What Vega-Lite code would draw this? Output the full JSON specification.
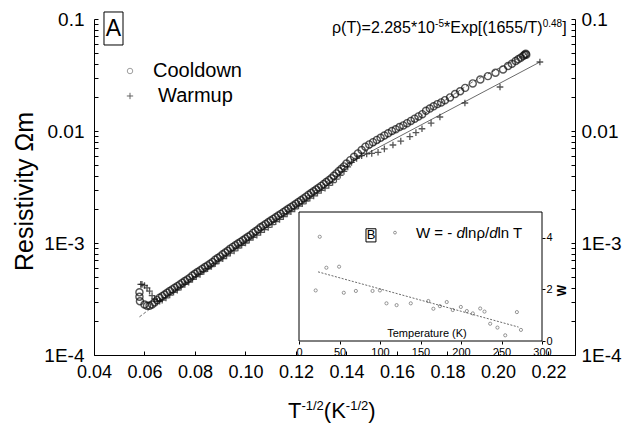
{
  "$schema": "https://vega.github.io/schema/vega-lite/v6.json",
  "width": 481,
  "height": 336,
  "autosize": "none",
  "padding": {"left": 94, "top": 19, "right": 53, "bottom": 70},
  "background": "white",
  "config": {
    "font": "Liberation Sans",
    "view": {"stroke": null},
    "axis": {"grid": false, "domainColor": "#000", "tickColor": "#000", "labelColor": "#000", "titleColor": "#000", "zindex": 1, "labelFont": "Liberation Sans", "titleFont": "Liberation Sans"}
  },
  "datasets": {
    "cool": [
      {"x":0.0580,"y":0.000363},{"x":0.0580,"y":0.000331},{"x":0.0582,"y":0.000302},
      {"x":0.0600,"y":0.000282},{"x":0.0610,"y":0.000275},{"x":0.0620,"y":0.000275},{"x":0.0630,"y":0.000282},{"x":0.0640,"y":0.000295},{"x":0.0650,"y":0.000309},{"x":0.0660,"y":0.000324},{"x":0.0670,"y":0.000335},{"x":0.0680,"y":0.000347},{"x":0.0690,"y":0.000359},{"x":0.0700,"y":0.000372},{"x":0.0710,"y":0.000385},{"x":0.0720,"y":0.000398},{"x":0.0730,"y":0.000412},{"x":0.0740,"y":0.000427},{"x":0.0750,"y":0.000442},{"x":0.0760,"y":0.000457},{"x":0.0770,"y":0.000473},{"x":0.0780,"y":0.000490},{"x":0.0790,"y":0.000513},{"x":0.0800,"y":0.000531},{"x":0.0810,"y":0.000550},{"x":0.0820,"y":0.000569},{"x":0.0830,"y":0.000589},{"x":0.0840,"y":0.000610},{"x":0.0850,"y":0.000631},{"x":0.0860,"y":0.000653},{"x":0.0870,"y":0.000676},{"x":0.0880,"y":0.000708},{"x":0.0890,"y":0.000733},{"x":0.0900,"y":0.000759},{"x":0.0910,"y":0.000794},{"x":0.0920,"y":0.000822},{"x":0.0930,"y":0.000851},{"x":0.0940,"y":0.000891},{"x":0.0950,"y":0.000923},{"x":0.0960,"y":0.000955},{"x":0.0970,"y":0.000989},{"x":0.0980,"y":0.001023},{"x":0.0990,"y":0.001059},{"x":0.1000,"y":0.001096},{"x":0.1010,"y":0.001135},{"x":0.1020,"y":0.001175},{"x":0.1030,"y":0.001230},{"x":0.1040,"y":0.001274},{"x":0.1050,"y":0.001318},{"x":0.1060,"y":0.001380},{"x":0.1070,"y":0.001429},{"x":0.1080,"y":0.001479},{"x":0.1090,"y":0.001531},{"x":0.1100,"y":0.001585},{"x":0.1110,"y":0.001641},{"x":0.1120,"y":0.001698},{"x":0.1130,"y":0.001758},{"x":0.1140,"y":0.001820},{"x":0.1150,"y":0.001884},{"x":0.1160,"y":0.001950},{"x":0.1170,"y":0.002018},{"x":0.1180,"y":0.002089},{"x":0.1190,"y":0.002163},{"x":0.1200,"y":0.002239},{"x":0.1210,"y":0.002323},{"x":0.1220,"y":0.002410},{"x":0.1230,"y":0.002500},{"x":0.1240,"y":0.002594},{"x":0.1250,"y":0.002692},{"x":0.1260,"y":0.002793},{"x":0.1270,"y":0.002897},{"x":0.1280,"y":0.003006},{"x":0.1290,"y":0.003119},{"x":0.1300,"y":0.003236},{"x":0.1310,"y":0.003365},{"x":0.1320,"y":0.003499},{"x":0.1330,"y":0.003639},{"x":0.1340,"y":0.003784},{"x":0.1350,"y":0.003981},{"x":0.1360,"y":0.004178},{"x":0.1370,"y":0.004385},{"x":0.1380,"y":0.004603},{"x":0.1390,"y":0.004831},{"x":0.1400,"y":0.005129},{"x":0.1415,"y":0.005495},{"x":0.1430,"y":0.005888},{"x":0.1445,"y":0.006310},{"x":0.1460,"y":0.006761},{"x":0.1475,"y":0.007244},{"x":0.1490,"y":0.007586},{"x":0.1505,"y":0.007943},{"x":0.1520,"y":0.008318},{"x":0.1535,"y":0.008710},{"x":0.1550,"y":0.009120},{"x":0.1565,"y":0.009550},{"x":0.1580,"y":0.01000},{"x":0.1595,"y":0.01035},{"x":0.1610,"y":0.01084},{"x":0.1625,"y":0.01122},{"x":0.1640,"y":0.01175},{"x":0.1655,"y":0.01230},{"x":0.1670,"y":0.01288},{"x":0.1685,"y":0.01349},{"x":0.1700,"y":0.01413},{"x":0.1715,"y":0.01514},{"x":0.1730,"y":0.01585},{"x":0.1745,"y":0.01660},{"x":0.1760,"y":0.01738},{"x":0.1775,"y":0.01799},{"x":0.1790,"y":0.01884},{"x":0.1810,"y":0.01995},{"x":0.1830,"y":0.02138},{"x":0.1850,"y":0.02265},{"x":0.1870,"y":0.02427},{"x":0.1900,"y":0.02661},{"x":0.1930,"y":0.02884},{"x":0.1960,"y":0.03090},{"x":0.1990,"y":0.03311},{"x":0.2020,"y":0.03548},{"x":0.2040,"y":0.03802},{"x":0.2055,"y":0.03981},{"x":0.2070,"y":0.04217},{"x":0.2080,"y":0.04365},{"x":0.2090,"y":0.04519},{"x":0.2100,"y":0.04677},{"x":0.2105,"y":0.04786},{"x":0.2110,"y":0.04898},{"x":0.2112,"y":0.04786}
    ],
    "warm": [
      {"x":0.0585,"y":0.000427},{"x":0.0590,"y":0.000427},{"x":0.0600,"y":0.000417},{"x":0.0610,"y":0.000398},{"x":0.0620,"y":0.000372},{"x":0.0630,"y":0.000339},{"x":0.0640,"y":0.000316},{"x":0.0650,"y":0.000302},{"x":0.0660,"y":0.000302},{"x":0.0670,"y":0.000309},{"x":0.0685,"y":0.000324},{"x":0.0700,"y":0.000343},{"x":0.0715,"y":0.000363},{"x":0.0730,"y":0.000380},{"x":0.0745,"y":0.000403},{"x":0.0760,"y":0.000427},{"x":0.0775,"y":0.000447},{"x":0.0790,"y":0.000473},{"x":0.0805,"y":0.000501},{"x":0.0820,"y":0.000525},{"x":0.0835,"y":0.000556},{"x":0.0850,"y":0.000589},{"x":0.0865,"y":0.000617},{"x":0.0880,"y":0.000653},{"x":0.0895,"y":0.000692},{"x":0.0910,"y":0.000724},{"x":0.0925,"y":0.000767},{"x":0.0940,"y":0.000813},{"x":0.0955,"y":0.000851},{"x":0.0970,"y":0.000902},{"x":0.0985,"y":0.000955},{"x":0.1000,"y":0.001000},{"x":0.1015,"y":0.001059},{"x":0.1030,"y":0.001122},{"x":0.1045,"y":0.001175},{"x":0.1060,"y":0.001245},{"x":0.1075,"y":0.001318},{"x":0.1090,"y":0.001380},{"x":0.1105,"y":0.001462},{"x":0.1120,"y":0.001549},{"x":0.1135,"y":0.001622},{"x":0.1150,"y":0.001718},{"x":0.1165,"y":0.001820},{"x":0.1180,"y":0.001905},{"x":0.1195,"y":0.002018},{"x":0.1210,"y":0.002138},{"x":0.1225,"y":0.002239},{"x":0.1240,"y":0.002371},{"x":0.1255,"y":0.002512},{"x":0.1270,"y":0.002630},{"x":0.1285,"y":0.002786},{"x":0.1300,"y":0.002951},{"x":0.1315,"y":0.003090},{"x":0.1330,"y":0.003273},{"x":0.1345,"y":0.003467},{"x":0.1360,"y":0.003715},{"x":0.1375,"y":0.004027},{"x":0.1390,"y":0.004365},{"x":0.1405,"y":0.004786},{"x":0.1420,"y":0.005248},{"x":0.1440,"y":0.005689},{"x":0.1460,"y":0.006026},{"x":0.1480,"y":0.006237},{"x":0.1500,"y":0.006310},{"x":0.1525,"y":0.006457},{"x":0.1550,"y":0.006918},{"x":0.1584,"y":0.007499},{"x":0.1615,"y":0.008128},{"x":0.1651,"y":0.008913},{"x":0.1675,"y":0.009661},{"x":0.1699,"y":0.01047},{"x":0.1735,"y":0.01175},{"x":0.1770,"y":0.01334},{"x":0.1869,"y":0.01778},{"x":0.2008,"y":0.02472},{"x":0.2166,"y":0.04130}
    ],
    "fit1": [
      {"x":0.058,"y":0.000219},{"x":0.070,"y":0.000351},{"x":0.090,"y":0.000739},{"x":0.110,"y":0.001547},{"x":0.130,"y":0.00322},{"x":0.150,"y":0.0072},{"x":0.170,"y":0.0138},{"x":0.190,"y":0.0275},{"x":0.200,"y":0.036},{"x":0.212,"y":0.0495}
    ],
    "fit2": [
      {"x":0.1374,"y":0.00468},{"x":0.2166,"y":0.0413}
    ],
    "inset": [
      {"T":25.6,"W":4.04},{"T":20.6,"W":1.96},{"T":33.8,"W":2.84},{"T":49.5,"W":2.88},{"T":55.3,"W":1.87},{"T":70.2,"W":1.94},{"T":90.8,"W":1.94},{"T":99.9,"W":1.96},{"T":108,"W":1.46},{"T":120.5,"W":1.39},{"T":138,"W":1.46},{"T":159.7,"W":1.55},{"T":165.9,"W":1.25},{"T":174,"W":1.35},{"T":182.4,"W":1.51},{"T":189.8,"W":1.2},{"T":199.8,"W":1.32},{"T":207.2,"W":1.16},{"T":214.6,"W":1.07},{"T":223.7,"W":1.26},{"T":229,"W":1.14},{"T":236,"W":0.67},{"T":245,"W":0.52},{"T":254.6,"W":0.22},{"T":269,"W":1.12},{"T":274,"W":0.43}
    ],
    "insetline": [{"T":23.5,"W":2.68},{"T":271,"W":0.54}]
  },
  "layer": [
    {
      "resolve": {"axis": {"y": "independent"}},
      "layer": [
        {
          "data": {"name": "fit1"},
          "mark": {"type": "line", "color": "#444", "strokeWidth": 0.8, "strokeDash": [3, 2]},
          "encoding": {
            "x": {"field": "x", "type": "quantitative", "scale": {"domain": [0.04, 0.2305], "nice": false, "zero": false},
              "axis": {"orient": "bottom", "title": null, "values": [0.04,0.05,0.06,0.07,0.08,0.09,0.10,0.11,0.12,0.13,0.14,0.15,0.16,0.17,0.18,0.19,0.20,0.21,0.22],
                "labelExpr": "round(datum.value*100) % 2 == 0 ? format(datum.value, '.2f') : ''",
                "tickSize": -4, "labelPadding": 12, "labelFontSize": 18, "domainWidth": 1, "labelFlush": false, "labelOverlap": false}},
            "y": {"field": "y", "type": "quantitative", "scale": {"type": "log", "domain": [0.0001, 0.1], "nice": false},
              "axis": {"orient": "left", "title": "Resistivity Ωm", "titleFontSize": 25, "titleFontWeight": "normal", "titleAngle": 270, "titleX": -70, "titleY": 172, "titleAlign": "center", "titleBaseline": "middle",
                "values": [0.0001,0.0002,0.0003,0.0004,0.0005,0.0006,0.0007,0.0008,0.0009,0.001,0.002,0.003,0.004,0.005,0.006,0.007,0.008,0.009,0.01,0.02,0.03,0.04,0.05,0.06,0.07,0.08,0.09,0.1],
                "labelExpr": "abs(log(datum.value)/LN10 - round(log(datum.value)/LN10)) < 0.001 ? (round(log(datum.value)/LN10) == -1 ? '0.1' : round(log(datum.value)/LN10) == -2 ? '0.01' : round(log(datum.value)/LN10) == -3 ? '1E-3' : '1E-4') : ''",
                "tickSize": -4, "labelPadding": 14, "labelFontSize": 19, "labelOverlap": false, "labelFlush": false}}
          }
        },
        {
          "data": {"name": "fit2"},
          "mark": {"type": "line", "color": "#444", "strokeWidth": 0.8},
          "encoding": {
            "x": {"field": "x", "type": "quantitative", "scale": {"domain": [0.04, 0.2305], "nice": false, "zero": false}},
            "y": {"field": "y", "type": "quantitative", "scale": {"type": "log", "domain": [0.0001, 0.1], "nice": false},
              "axis": {"orient": "right", "title": null,
                "values": [0.0001,0.0002,0.0003,0.0004,0.0005,0.0006,0.0007,0.0008,0.0009,0.001,0.002,0.003,0.004,0.005,0.006,0.007,0.008,0.009,0.01,0.02,0.03,0.04,0.05,0.06,0.07,0.08,0.09,0.1],
                "labelExpr": "abs(log(datum.value)/LN10 - round(log(datum.value)/LN10)) < 0.001 ? (round(log(datum.value)/LN10) == -1 ? '0.1' : round(log(datum.value)/LN10) == -2 ? '0.01' : round(log(datum.value)/LN10) == -3 ? '1E-3' : '1E-4') : ''",
                "tickSize": -4, "labelPadding": 10, "labelFontSize": 19, "labelOverlap": false, "labelFlush": false}}
          }
        },
        {
          "data": {"name": "cool"},
          "mark": {"type": "point", "shape": "circle", "filled": false, "size": 50, "strokeWidth": 1.4, "color": "#111"},
          "encoding": {
            "x": {"field": "x", "type": "quantitative", "scale": {"domain": [0.04, 0.2305], "nice": false, "zero": false}},
            "y": {"field": "y", "type": "quantitative", "scale": {"type": "log", "domain": [0.0001, 0.1], "nice": false}, "axis": null}
          }
        },
        {
          "data": {"name": "warm"},
          "mark": {"type": "point", "shape": "M-1,0H1M0,-1V1", "filled": false, "size": 44, "strokeWidth": 1.3, "color": "#111"},
          "encoding": {
            "x": {"field": "x", "type": "quantitative", "scale": {"domain": [0.04, 0.2305], "nice": false, "zero": false}},
            "y": {"field": "y", "type": "quantitative", "scale": {"type": "log", "domain": [0.0001, 0.1], "nice": false}, "axis": null}
          }
        },
        {
          "data": {"values": [{"x": 0.04396, "x2": 0.05149, "y": 0.1155, "y2": 0.0586}]},
          "mark": {"type": "rect", "fill": "white", "fillOpacity": 0, "stroke": "#000", "strokeWidth": 1},
          "encoding": {
            "x": {"field": "x", "type": "quantitative", "scale": {"domain": [0.04, 0.2305], "nice": false, "zero": false}},
            "x2": {"field": "x2"},
            "y": {"field": "y", "type": "quantitative", "scale": {"type": "log", "domain": [0.0001, 0.1], "nice": false}, "axis": null},
            "y2": {"field": "y2"}
          }
        },
        {
          "data": {"values": [{"x": 0.04772, "y": 0.0815, "label": "A"}]},
          "mark": {"type": "text", "fontSize": 23, "align": "center", "baseline": "middle", "color": "#000"},
          "encoding": {
            "x": {"field": "x", "type": "quantitative", "scale": {"domain": [0.04, 0.2305], "nice": false, "zero": false}},
            "y": {"field": "y", "type": "quantitative", "scale": {"type": "log", "domain": [0.0001, 0.1], "nice": false}, "axis": null},
            "text": {"field": "label"}
          }
        },
        {
          "data": {"values": [{"x": 0.05426, "y": 0.03433}]},
          "mark": {"type": "point", "shape": "circle", "filled": false, "size": 30, "strokeWidth": 0.8, "color": "#555"},
          "encoding": {
            "x": {"field": "x", "type": "quantitative", "scale": {"domain": [0.04, 0.2305], "nice": false, "zero": false}},
            "y": {"field": "y", "type": "quantitative", "scale": {"type": "log", "domain": [0.0001, 0.1], "nice": false}, "axis": null}
          }
        },
        {
          "data": {"values": [{"x": 0.05426, "y": 0.02054}]},
          "mark": {"type": "point", "shape": "M-1,0H1M0,-1V1", "filled": false, "size": 40, "strokeWidth": 0.9, "color": "#111"},
          "encoding": {
            "x": {"field": "x", "type": "quantitative", "scale": {"domain": [0.04, 0.2305], "nice": false, "zero": false}},
            "y": {"field": "y", "type": "quantitative", "scale": {"type": "log", "domain": [0.0001, 0.1], "nice": false}, "axis": null}
          }
        },
        {
          "data": {"values": [{"x": 0.06337, "y": 0.03433, "label": "Cooldown"}, {"x": 0.06535, "y": 0.02054, "label": "Warmup"}]},
          "mark": {"type": "text", "fontSize": 20, "align": "left", "baseline": "middle", "color": "#000"},
          "encoding": {
            "x": {"field": "x", "type": "quantitative", "scale": {"domain": [0.04, 0.2305], "nice": false, "zero": false}},
            "y": {"field": "y", "type": "quantitative", "scale": {"type": "log", "domain": [0.0001, 0.1], "nice": false}, "axis": null},
            "text": {"field": "label"}
          }
        },
        {
          "data": {"values": [{"x": 0.13426, "y": 0.0750, "label": "ρ(T)=2.285*10"}, {"x": 0.17861, "y": 0.0750, "label": "*Exp[(1655/T)"}, {"x": 0.22543, "y": 0.0750, "label": "]"}]},
          "mark": {"type": "text", "fontSize": 16, "align": "left", "baseline": "alphabetic", "color": "#000"},
          "encoding": {
            "x": {"field": "x", "type": "quantitative", "scale": {"domain": [0.04, 0.2305], "nice": false, "zero": false}},
            "y": {"field": "y", "type": "quantitative", "scale": {"type": "log", "domain": [0.0001, 0.1], "nice": false}, "axis": null},
            "text": {"field": "label"}
          }
        },
        {
          "data": {"values": [{"x": 0.17509, "y": 0.0848, "label": "-5"}, {"x": 0.21770, "y": 0.0848, "label": "0.48"}]},
          "mark": {"type": "text", "fontSize": 10, "align": "left", "baseline": "alphabetic", "color": "#000"},
          "encoding": {
            "x": {"field": "x", "type": "quantitative", "scale": {"domain": [0.04, 0.2305], "nice": false, "zero": false}},
            "y": {"field": "y", "type": "quantitative", "scale": {"type": "log", "domain": [0.0001, 0.1], "nice": false}, "axis": null},
            "text": {"field": "label"}
          }
        },
        {
          "data": {"values": [{"x": 0.11683, "y": 0.00002738, "label": "T"}, {"x": 0.13103, "y": 0.00002738, "label": "(K"}, {"x": 0.14861, "y": 0.00002738, "label": ")"}]},
          "mark": {"type": "text", "fontSize": 22, "align": "left", "baseline": "alphabetic", "color": "#000"},
          "encoding": {
            "x": {"field": "x", "type": "quantitative", "scale": {"domain": [0.04, 0.2305], "nice": false, "zero": false}},
            "y": {"field": "y", "type": "quantitative", "scale": {"type": "log", "domain": [0.0001, 0.1], "nice": false}, "axis": null},
            "text": {"field": "label"}
          }
        },
        {
          "data": {"values": [{"x": 0.12215, "y": 0.00003228, "label": "-1/2"}, {"x": 0.13974, "y": 0.00003228, "label": "-1/2"}]},
          "mark": {"type": "text", "fontSize": 13, "align": "left", "baseline": "alphabetic", "color": "#000"},
          "encoding": {
            "x": {"field": "x", "type": "quantitative", "scale": {"domain": [0.04, 0.2305], "nice": false, "zero": false}},
            "y": {"field": "y", "type": "quantitative", "scale": {"type": "log", "domain": [0.0001, 0.1], "nice": false}, "axis": null},
            "text": {"field": "label"}
          }
        }
      ]
    },
    {
      "layer": [
        {
          "data": {"values": [{"T0": 0, "T1": 300, "W0": 0, "W1": 5}]},
          "mark": {"type": "rect", "fill": "white", "stroke": "#000", "strokeWidth": 1},
          "encoding": {
            "x": {"field": "T0", "type": "quantitative", "scale": {"domain": [0, 300], "range": [205, 448], "nice": false, "zero": false},
              "axis": {"orient": "bottom", "offset": -14, "title": null, "values": [0, 50, 100, 150, 200, 250, 300], "tickSize": 3, "labelPadding": 2, "labelFontSize": 11, "domain": false, "labelFlush": false, "labelOverlap": false}},
            "x2": {"field": "T1"},
            "y": {"field": "W0", "type": "quantitative", "scale": {"domain": [0, 5], "range": [322, 193], "nice": false, "zero": false},
              "axis": {"orient": "right", "offset": -33, "title": "W", "titleFontSize": 12, "titleFontWeight": "bold", "titleAngle": 270, "titleX": 19, "titleY": 271, "titleAlign": "center", "titleBaseline": "middle",
                "values": [0, 2, 4], "format": "d", "tickSize": 3, "labelPadding": 1, "labelFontSize": 11, "domain": false, "labelFlush": false, "labelOverlap": false}},
            "y2": {"field": "W1"}
          }
        },
        {
          "data": {"name": "insetline"},
          "mark": {"type": "line", "color": "#444", "strokeWidth": 0.8, "strokeDash": [2, 1.5]},
          "encoding": {
            "x": {"field": "T", "type": "quantitative", "scale": {"domain": [0, 300], "range": [205, 448], "nice": false, "zero": false}},
            "y": {"field": "W", "type": "quantitative", "scale": {"domain": [0, 5], "range": [322, 193], "nice": false, "zero": false}}
          }
        },
        {
          "data": {"name": "inset"},
          "mark": {"type": "point", "shape": "circle", "filled": false, "size": 10, "strokeWidth": 0.8, "color": "#444"},
          "encoding": {
            "x": {"field": "T", "type": "quantitative", "scale": {"domain": [0, 300], "range": [205, 448], "nice": false, "zero": false}},
            "y": {"field": "W", "type": "quantitative", "scale": {"domain": [0, 5], "range": [322, 193], "nice": false, "zero": false}}
          }
        },
        {
          "data": {"values": [{"T": 118.5, "W": 4.2}]},
          "mark": {"type": "point", "shape": "circle", "filled": false, "size": 8, "strokeWidth": 0.8, "color": "#444"},
          "encoding": {
            "x": {"field": "T", "type": "quantitative", "scale": {"domain": [0, 300], "range": [205, 448], "nice": false, "zero": false}},
            "y": {"field": "W", "type": "quantitative", "scale": {"domain": [0, 5], "range": [322, 193], "nice": false, "zero": false}}
          }
        },
        {
          "data": {"values": [{"T": 82.7, "T2": 95, "W": 4.35, "W2": 3.84}]},
          "mark": {"type": "rect", "fillOpacity": 0, "stroke": "#000", "strokeWidth": 1},
          "encoding": {
            "x": {"field": "T", "type": "quantitative", "scale": {"domain": [0, 300], "range": [205, 448], "nice": false, "zero": false}},
            "x2": {"field": "T2"},
            "y": {"field": "W", "type": "quantitative", "scale": {"domain": [0, 5], "range": [322, 193], "nice": false, "zero": false}},
            "y2": {"field": "W2"}
          }
        },
        {
          "data": {"values": [{"T": 88.9, "W": 4.1, "label": "B"}]},
          "mark": {"type": "text", "fontSize": 13, "align": "center", "baseline": "middle", "color": "#000"},
          "encoding": {
            "x": {"field": "T", "type": "quantitative", "scale": {"domain": [0, 300], "range": [205, 448], "nice": false, "zero": false}},
            "y": {"field": "W", "type": "quantitative", "scale": {"domain": [0, 5], "range": [322, 193], "nice": false, "zero": false}},
            "text": {"field": "label"}
          }
        },
        {
          "data": {"values": [{"T": 144.4, "W": 4.2, "label": "W = - "}, {"T": 204.6, "W": 4.2, "label": "lnρ/"}, {"T": 245.1, "W": 4.2, "label": "ln T"}]},
          "mark": {"type": "text", "fontSize": 15, "align": "left", "baseline": "middle", "color": "#000"},
          "encoding": {
            "x": {"field": "T", "type": "quantitative", "scale": {"domain": [0, 300], "range": [205, 448], "nice": false, "zero": false}},
            "y": {"field": "W", "type": "quantitative", "scale": {"domain": [0, 5], "range": [322, 193], "nice": false, "zero": false}},
            "text": {"field": "label"}
          }
        },
        {
          "data": {"values": [{"T": 194.3, "W": 4.2, "label": "d"}, {"T": 234.8, "W": 4.2, "label": "d"}]},
          "mark": {"type": "text", "fontSize": 15, "fontStyle": "italic", "align": "left", "baseline": "middle", "color": "#000"},
          "encoding": {
            "x": {"field": "T", "type": "quantitative", "scale": {"domain": [0, 300], "range": [205, 448], "nice": false, "zero": false}},
            "y": {"field": "W", "type": "quantitative", "scale": {"domain": [0, 5], "range": [322, 193], "nice": false, "zero": false}},
            "text": {"field": "label"}
          }
        },
        {
          "data": {"values": [{"T": 158, "W": 0.28, "label": "Temperature (K)"}]},
          "mark": {"type": "text", "fontSize": 11, "align": "center", "baseline": "middle", "color": "#000"},
          "encoding": {
            "x": {"field": "T", "type": "quantitative", "scale": {"domain": [0, 300], "range": [205, 448], "nice": false, "zero": false}},
            "y": {"field": "W", "type": "quantitative", "scale": {"domain": [0, 5], "range": [322, 193], "nice": false, "zero": false}},
            "text": {"field": "label"}
          }
        }
      ]
    }
  ],
  "resolve": {"scale": {"x": "independent", "y": "independent"}, "axis": {"x": "independent", "y": "independent"}}
}
